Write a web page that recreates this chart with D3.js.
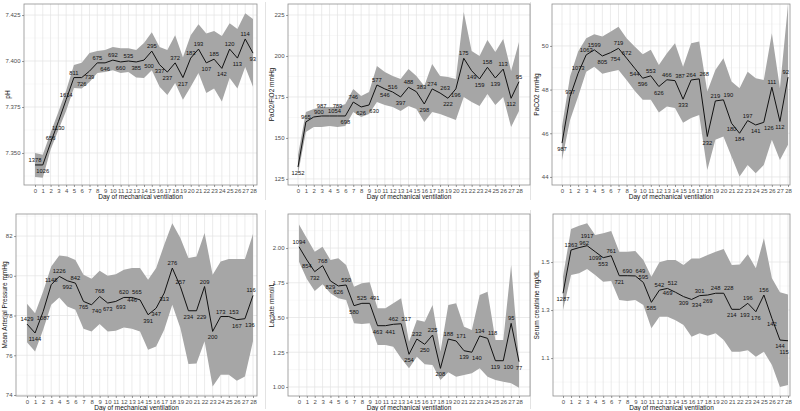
<!DOCTYPE html>
<html><head><meta charset="utf-8">
<script src="https://cdn.jsdelivr.net/npm/d3@7"></script>
<style>body{margin:0;background:#fff} svg{display:block} text{font-family:"Liberation Sans",Arial,sans-serif}</style>
</head><body><svg id="c" width="800" height="411"></svg>
<script>
const days = [0,1,2,3,4,5,6,7,8,9,10,11,12,13,14,15,16,17,18,19,20,21,22,23,24,25,26,27,28];

const phTicks = [7.350,7.375,7.400,7.425];
const phMean = [7.3435,7.3435,7.3555,7.367,7.379,7.391,7.391,7.3945,7.399,7.399,7.4005,7.3995,7.400,7.3995,7.4005,7.4054,7.398,7.394,7.399,7.391,7.4016,7.4065,7.399,7.401,7.396,7.4065,7.4016,7.412,7.4043];
const phLower = [7.337,7.3365,7.3517,7.3625,7.373,7.3853,7.385,7.3886,7.3935,7.394,7.395,7.3935,7.394,7.391,7.3908,7.395,7.386,7.3815,7.388,7.379,7.386,7.3935,7.3826,7.385,7.378,7.3908,7.385,7.3967,7.386];
const phUpper = [7.350,7.349,7.361,7.3723,7.384,7.3978,7.399,7.4043,7.4054,7.406,7.4076,7.407,7.407,7.406,7.4098,7.4157,7.4076,7.406,7.414,7.402,7.414,7.420,7.415,7.4163,7.4136,7.4206,7.4174,7.426,7.4228];
const phN = [1378,1026,656,1130,1614,811,726,739,675,646,692,660,535,385,500,295,337,237,372,217,183,193,107,185,142,120,113,114,93];

const pfTicks = [125,150,175,200,225];
const pfMean = [132.3,159.8,162.8,163.4,163.4,163.4,163.4,171.9,168.9,170.1,182.3,179.9,178,175,180.9,178.2,170.7,179.9,177.4,174.2,179.9,198.6,191,186,193.1,186.6,192,174.2,184.3];
const pfLower = [128,153.7,156.7,156.7,157.3,156.7,157.3,165.9,162.8,164.6,171.9,170.1,168.9,166.5,169.5,167.7,159.8,165.9,164.6,162.8,161,175,171.9,169.5,176.8,170.1,175,156.7,166.5];
const pfUpper = [139.6,165.9,167.7,168.9,168.9,168.9,170.7,179.9,175.6,178,193.9,190.2,187.8,186,192,187.8,181.7,195.1,187.8,187.2,186,226.8,203,200,209.8,202.4,210.4,190.9,208.5];
const pfN = [1252,965,900,987,1054,789,698,746,626,630,577,546,516,397,488,383,298,274,263,222,196,175,149,159,158,139,113,112,95];

const pcTicks = [44,46,48,50];
const pcMean = [45.55,47.68,48.75,49.59,49.82,49.54,49.69,49.89,49.44,48.98,48.52,48.63,48.14,48.45,48.41,47.56,48.44,48.49,45.85,47.48,47.53,46.46,46.0,46.58,46.38,46.5,48.11,46.54,48.57];
const pcLower = [44.78,46.61,47.68,48.82,49.05,48.72,48.82,48.9,48.44,47.95,47.53,47.53,46.95,47.22,47.16,46.48,46.7,46.84,44.32,45.7,45.85,44.93,44.02,44.55,44.17,44.55,45.7,44.78,45.47];
const pcUpper = [46.31,48.6,49.74,50.35,50.53,50.43,50.65,50.88,50.35,49.97,49.62,49.82,49.13,49.66,50.12,49.05,50.12,50.2,47.91,48.9,49.44,48.37,48.06,48.82,48.52,48.44,50.58,48.06,51.88];
const pcN = [987,937,1073,1063,1599,805,754,719,672,544,596,553,626,466,387,333,264,268,232,219,190,180,184,197,141,126,111,112,92];

const mapTicks = [74,76,78,80,82];
const mapMean = [77.57,77.12,78.2,79.55,79.97,79.75,79.63,78.71,78.54,78.96,78.63,78.71,78.91,78.91,78.79,78.04,78.37,79.13,80.39,79.46,78.24,78.24,79.46,77.2,77.95,77.95,77.79,77.84,79.01];
const mapLower = [76.66,76.19,77.28,78.54,78.91,78.46,78.29,77.33,77.2,77.57,77.2,77.23,77.4,77.33,77.2,76.28,76.44,77.28,78.54,77.37,75.56,75.59,76.7,74.43,75.02,75.02,74.72,74.93,76.7];
const mapUpper = [78.59,78.12,79.21,80.47,81.02,80.97,80.8,80.05,79.85,80.25,80.0,80.08,80.3,80.39,80.39,79.8,80.39,81.56,82.65,81.9,80.89,80.97,82.15,80.05,80.72,80.84,80.84,80.84,82.1];
const mapN = [1429,1144,1087,1148,1226,992,842,765,740,768,673,693,620,565,446,391,347,313,276,257,234,229,209,200,173,153,167,136,116];

const lacTicks = [1.00,1.25,1.50,1.75,2.00];
const lacMean = [2.009,1.914,1.83,1.873,1.763,1.727,1.734,1.585,1.602,1.602,1.441,1.441,1.451,1.455,1.235,1.345,1.307,1.374,1.134,1.345,1.331,1.261,1.25,1.367,1.35,1.189,1.189,1.458,1.182];
const lacLower = [1.901,1.777,1.69,1.739,1.674,1.638,1.626,1.458,1.453,1.458,1.302,1.302,1.29,1.207,1.134,1.218,1.163,1.158,1.05,1.106,1.074,1.086,1.098,1.134,1.074,1.05,1.038,1.027,0.995];
const lacUpper = [2.17,2.07,1.973,2.009,1.914,1.926,1.878,1.722,1.746,1.753,1.566,1.566,1.602,1.638,1.326,1.482,1.47,1.59,1.254,1.59,1.602,1.434,1.41,1.662,1.686,1.338,1.338,1.878,1.194];
const lacN = [1094,854,732,768,829,626,590,580,525,491,463,441,462,317,254,232,250,225,208,188,171,139,140,134,118,119,100,95,77];

const crTicks = [1.1,1.3,1.5];
const crMean = [1.37,1.55,1.56,1.568,1.543,1.518,1.526,1.443,1.443,1.442,1.415,1.332,1.383,1.39,1.374,1.356,1.344,1.36,1.3625,1.37,1.37,1.303,1.303,1.328,1.293,1.3625,1.265,1.175,1.172];
const crLower = [1.30,1.446,1.453,1.471,1.446,1.418,1.421,1.342,1.3375,1.342,1.321,1.224,1.272,1.272,1.258,1.2375,1.189,1.203,1.193,1.203,1.175,1.126,1.126,1.133,1.105,1.126,1.071,0.98,0.9875];
const crUpper = [1.44,1.6375,1.651,1.661,1.6125,1.62,1.629,1.543,1.543,1.546,1.508,1.439,1.499,1.508,1.508,1.4875,1.515,1.515,1.529,1.543,1.554,1.4875,1.49,1.532,1.474,1.599,1.432,1.374,1.365];
const crN = [1287,1363,962,1917,1099,553,761,721,690,649,595,585,542,512,469,309,334,301,269,248,228,214,193,196,176,156,142,144,115];

const xTitle = "Day of mechanical ventilation";

const panels = [
  {ylab:"pH", mean:phMean, lo:phLower, hi:phUpper, n:phN, ticks:phTicks, fmt:d3.format(".3f"), yDom:[7.3326,7.431], box:[24,4,257,185], x0:35, x28:253, labX:8},
  {ylab:"PaO2/FiO2 mmHg", mean:pfMean, lo:pfLower, hi:pfUpper, n:pfN, ticks:pfTicks, fmt:d3.format("d"), yDom:[121.3,231.7], box:[288,4,530,185], x0:298, x28:519, labX:272},
  {ylab:"PaCO2 mmHg", mean:pcMean, lo:pcLower, hi:pcUpper, n:pcN, ticks:pcTicks, fmt:d3.format("d"), yDom:[43.63,51.92], box:[552,4,790,185], x0:562, x28:788, labX:537},
  {ylab:"Mean Arterial Pressure mmHg", mean:mapMean, lo:mapLower, hi:mapUpper, n:mapN, ticks:mapTicks, fmt:d3.format("d"), yDom:[73.95,83.11], box:[16,214,257,396], x0:27, x28:253, labX:5},
  {ylab:"Lactate mmol/L", mean:lacMean, lo:lacLower, hi:lacUpper, n:lacN, ticks:lacTicks, fmt:d3.format(".2f"), yDom:[0.935,2.245], box:[288,214,530,396], x0:299, x28:519, labX:272},
  {ylab:"Serum creatinine mg/dL", mean:crMean, lo:crLower, hi:crUpper, n:crN, ticks:crTicks, fmt:d3.format(".1f"), yDom:[0.942,1.7], box:[553,214,790,396], x0:563, x28:788, labX:537}
];

const svg = d3.select("#c");

[[265.5,2,265.5,200],[530.5,2,530.5,200],[265.5,210,265.5,409],[530.5,210,530.5,409]].forEach(s=>{
  svg.append("line").attr("x1",s[0]).attr("y1",s[1]).attr("x2",s[2]).attr("y2",s[3]).attr("stroke","#dcdcdc").attr("stroke-width",0.8);
});

const FS = 5.8;          // label font size
const CW = 3.25;         // approx digit width
function overlaps(a,b){ return a.x1 < b.x2 && a.x2 > b.x1 && a.y1 < b.y2 && a.y2 > b.y1; }

panels.forEach(p => {
  const [L,T,R,B] = p.box;
  const x = d3.scaleLinear().domain([0,28]).range([p.x0,p.x28]);
  const y = d3.scaleLinear().domain(p.yDom).range([B,T]);
  const g = svg.append("g");
  const data = days.map((d,i)=>({day:d, m:p.mean[i], lo:p.lo[i], hi:p.hi[i], n:p.n[i]}));

  g.append("rect").attr("x",L).attr("y",T).attr("width",R-L).attr("height",B-T).attr("fill","#fff");
  const step = p.ticks[1]-p.ticks[0];
  const minors = p.ticks.map(v=>v-step/2).concat([p.ticks[p.ticks.length-1]+step/2]);
  minors.filter(v=>v>p.yDom[0]&&v<p.yDom[1]).forEach(v=>{
    g.append("line").attr("x1",L).attr("x2",R).attr("y1",y(v)).attr("y2",y(v)).attr("stroke","#f1f1f1").attr("stroke-width",0.5);
  });
  p.ticks.forEach(v=>{
    g.append("line").attr("x1",L).attr("x2",R).attr("y1",y(v)).attr("y2",y(v)).attr("stroke","#e3e3e3").attr("stroke-width",0.7);
  });
  days.forEach(d=>{
    g.append("line").attr("x1",x(d)).attr("x2",x(d)).attr("y1",T).attr("y2",B).attr("stroke","#e3e3e3").attr("stroke-width",0.7);
  });

  g.append("path").datum(data)
    .attr("d", d3.area().x(d=>x(d.day)).y0(d=>y(d.lo)).y1(d=>y(d.hi)))
    .attr("fill","#a6a6a6");
  g.append("path").datum(data)
    .attr("d", d3.line().x(d=>x(d.day)).y(d=>y(d.m)))
    .attr("fill","none").attr("stroke","#111").attr("stroke-width",1);

  // count labels with greedy repel
  const placed = [];
  data.forEach((d,i)=>{
    const prev = i>0 ? data[i-1].m : null, next = i<data.length-1 ? data[i+1].m : null;
    const ref = prev===null ? next : next===null ? prev : (prev+next)/2;
    const above = d.m >= ref;
    const w = String(d.n).length*CW, h = 4.6;
    const px = x(d.day), py = y(d.m);
    const up = [[0,-3],[-5,-3],[5,-3],[0,-8],[-6,-8],[6,-8]];
    const dn = [[0,8],[-5,8],[5,8],[0,13],[-6,13],[6,13]];
    const side = [[-w/2-3,2.5],[w/2+3,2.5]];
    const cands = (above ? up.concat(side, dn) : dn.concat(side, up));
    let best = null;
    for (const c of cands){
      let cx = px + c[0], by = py + c[1];
      cx = Math.max(L + w/2 + 1, Math.min(R - w/2 - 1, cx));
      by = Math.max(T + h + 1, Math.min(B - 1, by));
      const box = {x1:cx-w/2, x2:cx+w/2, y1:by-h, y2:by+0.4};
      if (!placed.some(b=>overlaps(b,box))) { best = {cx,by,box}; break; }
    }
    if (!best){
      const c = cands[0];
      const cx = Math.max(L + w/2 + 1, Math.min(R - w/2 - 1, px+c[0])), by = py+c[1];
      best = {cx,by,box:{x1:cx-w/2,x2:cx+w/2,y1:by-h,y2:by+0.4}};
    }
    placed.push(best.box);
    g.append("text").attr("x", best.cx).attr("y", best.by)
      .attr("text-anchor","middle").attr("font-size",FS).attr("fill","#111").text(d.n);
  });

  g.append("rect").attr("x",L).attr("y",T).attr("width",R-L).attr("height",B-T)
    .attr("fill","none").attr("stroke","#8f8f8f").attr("stroke-width",0.8);

  const ay = g.append("g").attr("transform",`translate(${L},0)`)
    .call(d3.axisLeft(y).tickValues(p.ticks).tickFormat(p.fmt).tickSize(2).tickPadding(1.5));
  const ax = g.append("g").attr("transform",`translate(0,${B})`)
    .call(d3.axisBottom(x).tickValues(days).tickFormat(d3.format("d")).tickSize(2).tickPadding(1.5));
  [ay,ax].forEach(a=>{
    a.select(".domain").remove();
    a.selectAll(".tick line").attr("stroke","#555").attr("stroke-width",0.6);
    a.selectAll(".tick text").attr("font-size",6).attr("fill","#4d4d4d").attr("font-family","Liberation Sans, Arial, sans-serif");
  });

  g.append("text").attr("x",(L+R)/2).attr("y",B+13.5).attr("text-anchor","middle")
    .attr("font-size",6.5).attr("fill","#111").text(xTitle);
  g.append("text").attr("transform",`translate(${p.labX},${(T+B)/2}) rotate(-90)`)
    .attr("text-anchor","middle").attr("dy","0.35em").attr("font-size",6.5).attr("fill","#111").text(p.ylab);
});
</script>
</body></html>
